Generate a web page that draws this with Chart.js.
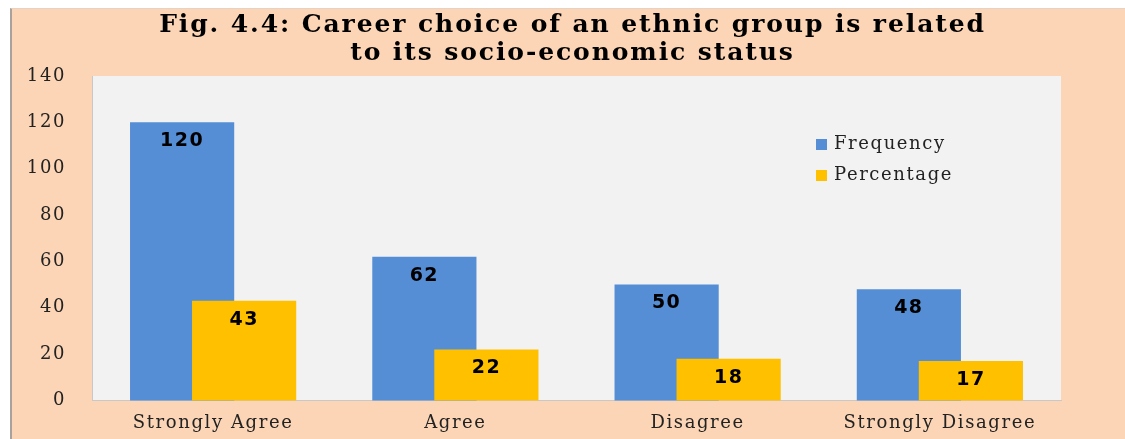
<!DOCTYPE html>
<html>
<head>
<meta charset="utf-8">
<script src="https://cdn.jsdelivr.net/npm/chart.js@4.4.1/dist/chart.umd.min.js"></script>
<style>
  html, body { margin: 0; padding: 0; background: #ffffff; }
  #frame {
    position: absolute; left: 10px; top: 8px; width: 1115px; height: 431px;
    background: #FBD5B5; border-left: 2px solid #a9a29c; border-top: 1px solid #e6d2c4;
    box-sizing: border-box;
  }
  canvas { display: block; }
</style>
</head>
<body>
<div id="frame"><canvas id="careerChart" width="1113" height="430"></canvas></div>
<script>
// datos del gráfico
const categorias = ['Strongly Agree', 'Agree', 'Disagree', 'Strongly Disagree'];
const frecuencia = [120, 62, 50, 48];
const porcentaje = [43, 22, 18, 17];
const ticksY = [0, 20, 40, 60, 80, 100, 120, 140];
const titulo = ['Fig. 4.4: Career choice of an ethnic group is related', 'to its socio-economic status'];

const SERIF = '"DejaVu Serif", "Liberation Serif", serif';

// espaciado de letras para imitar la fuente serif ancha del original
const espaciado = {
  id: 'espaciado',
  beforeUpdate(chart) { chart.ctx.letterSpacing = '1.6px'; },
  beforeDraw(chart) { chart.ctx.letterSpacing = '1.6px'; }
};

// fondo gris del área de trazado
const fondoArea = {
  id: 'fondoArea',
  beforeDraw(chart) {
    const a = chart.chartArea, ctx = chart.ctx;
    ctx.save();
    ctx.fillStyle = '#F2F2F2';
    ctx.fillRect(a.left, a.top, a.right - a.left, a.bottom - a.top);
    ctx.restore();
  }
};

// la serie naranja debe quedar encima de la azul
const ordenDibujo = {
  id: 'ordenDibujo',
  beforeDatasetsDraw(chart) {
    chart.data.datasets.forEach((ds, i) => chart.getDatasetMeta(i).controller.draw());
    return false;
  }
};

// título, etiquetas de valor y leyenda
const textos = {
  id: 'textos',
  afterDraw(chart) {
    const ctx = chart.ctx;
    ctx.save();
    ctx.fillStyle = '#000';
    ctx.textAlign = 'center';
    ctx.textBaseline = 'middle';
    ctx.letterSpacing = '1.9px';
    ctx.font = 'bold 25px ' + SERIF;
    titulo.forEach((t, i) => ctx.fillText(t, chart.width / 2 + 4, 16 + i * 28));

    ctx.letterSpacing = '1.5px';
    ctx.font = 'bold 19px "DejaVu Sans", "Liberation Sans", sans-serif';
    chart.data.datasets.forEach((ds, i) => {
      chart.getDatasetMeta(i).data.forEach((bar, j) => {
        ctx.fillText(String(ds.data[j]), bar.x, bar.y + 19);
      });
    });

    const x0 = chart.chartArea.right - 245;
    const y0 = chart.chartArea.top + 68;
    ctx.letterSpacing = '1.6px';
    ctx.font = '18px ' + SERIF;
    ctx.textAlign = 'left';
    chart.data.datasets.forEach((ds, i) => {
      const y = y0 + i * 31;
      ctx.fillStyle = ds.backgroundColor;
      ctx.fillRect(x0, y - 5, 11, 11);
      ctx.fillStyle = '#222';
      ctx.fillText(ds.label, x0 + 18, y);
    });
    ctx.restore();
  }
};

new Chart(document.getElementById('careerChart'), {
  type: 'bar',
  data: {
    labels: categorias,
    datasets: [
      { label: 'Frequency', data: frecuencia, backgroundColor: '#558ED5' },
      { label: 'Percentage', data: porcentaje, backgroundColor: '#FFC000' }
    ]
  },
  options: {
    responsive: false,
    animation: false,
    categoryPercentage: 0.512,
    barPercentage: 1.68,
    layout: { padding: { left: 0, right: 64, top: 67, bottom: 1 } },
    scales: {
      x: {
        grid: { display: false },
        border: { color: '#c8c8c8', width: 1 },
        ticks: { color: '#222', font: { family: SERIF, size: 18 }, padding: 4 }
      },
      y: {
        min: 0,
        max: 140,
        afterBuildTicks(scale) { scale.ticks = ticksY.map(v => ({ value: v })); },
        afterFit(scale) { scale.width = 80; },
        grid: { display: false },
        border: { color: '#c8c8c8', width: 1 },
        ticks: { color: '#222', font: { family: SERIF, size: 18 }, padding: 18 }
      }
    },
    plugins: {
      legend: { display: false },
      tooltip: { enabled: false },
      title: { display: false }
    }
  },
  plugins: [espaciado, fondoArea, ordenDibujo, textos]
});
</script>
</body>
</html>
